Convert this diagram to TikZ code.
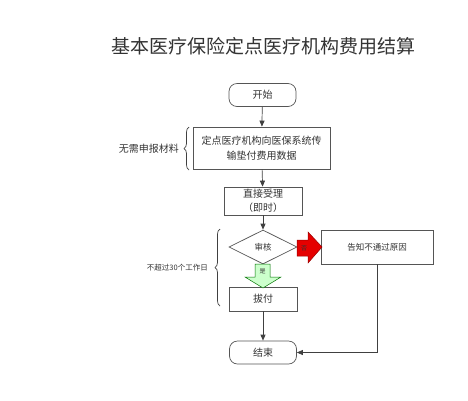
\documentclass[tikz,border=0pt]{standalone}
\usepackage{fontspec}
\setmainfont{Noto Sans CJK SC}
\usetikzlibrary{shapes.geometric,decorations.pathreplacing,arrows.meta}
\definecolor{ln}{HTML}{404040}
\definecolor{bd}{HTML}{555555}
\definecolor{tx}{HTML}{333333}
\begin{document}
\begin{tikzpicture}[x=1pt,y=-1pt,
  box/.style={draw=bd,line width=0.7pt,fill=white,text=tx,align=center,inner sep=0pt},
  term/.style={box,rounded corners=8pt,minimum width=67pt,minimum height=23pt,font=\fontsize{10}{12}\selectfont},
  conn/.style={draw=ln,line width=0.7pt,-{Triangle[length=6pt,width=5pt]}},
  brc/.style={draw=ln,line width=0.7pt,decorate,decoration={brace,amplitude=5pt}},
  side/.style={text=tx,inner sep=0pt}]
\useasboundingbox (0,0) rectangle (468,400);
\node[text=tx] (title) at (263,46) {\fontsize{19}{22}\selectfont 基本医疗保险定点医疗机构费用结算};
\node[term] (start) at (262.5,95) {开始};
\node[box,minimum width=137pt,minimum height=42pt,font=\fontsize{10}{15}\selectfont] (send) at (261.5,148) {定点医疗机构向医保系统传\\输垫付费用数据};
\node[box,minimum width=78pt,minimum height=28pt,font=\fontsize{10}{14}\selectfont] (accept) at (263,201) {直接受理\\（即时）};
\node[box,diamond,aspect=2,minimum width=68pt,minimum height=34pt,font=\fontsize{8.5}{10}\selectfont] (check) at (263,247) {审核};
\node[box,minimum width=112pt,minimum height=34pt,font=\fontsize{8.5}{10}\selectfont] (notify) at (377,247) {告知不通过原因};
\node[box,minimum width=68pt,minimum height=24pt,font=\fontsize{10}{12}\selectfont] (pay) at (263,299) {拔付};
\node[term] (end) at (263,352.5) {结束};
% connectors
\draw[conn] (start) -- (send);
\draw[conn] (send) -- (accept);
\draw[conn] (accept) -- (check);
\draw[conn] (pay) -- (end);
\coordinate (corner) at (377,352.5);
\draw[conn] (notify.south) -- (corner) -- (end.east);
% red block arrow (no)
\draw[draw=red!60!black,fill=red!90!black,line width=0.5pt] (297,240) -- (308,240) -- (308,232) -- (322,247) -- (308,263) -- (308,256) -- (297,256) -- cycle;
\node[text=tx,font=\fontsize{6}{7}\selectfont,inner sep=0pt] (no) at (304,248) {否};
% green block arrow (yes)
\draw[draw=green!45!black,fill=green!20,line width=0.5pt] (255,264) -- (270,264) -- (270,277) -- (281,277) -- (263,288) -- (245,277) -- (255,277) -- cycle;
\node[text=tx,font=\fontsize{6}{7}\selectfont,inner sep=0pt] (yes) at (262.5,271) {是};
% braces
\draw[brc] (189,170) -- (189,127);
\node[side,font=\fontsize{10}{12}\selectfont,anchor=east] (nomat) at (179,149) {无需申报材料};
\draw[brc] (220,306) -- (220,229);
\node[side,font=\fontsize{7.5}{9}\selectfont,anchor=east] (days) at (208,268) {不超过30个工作日};
\end{tikzpicture}
\end{document}
